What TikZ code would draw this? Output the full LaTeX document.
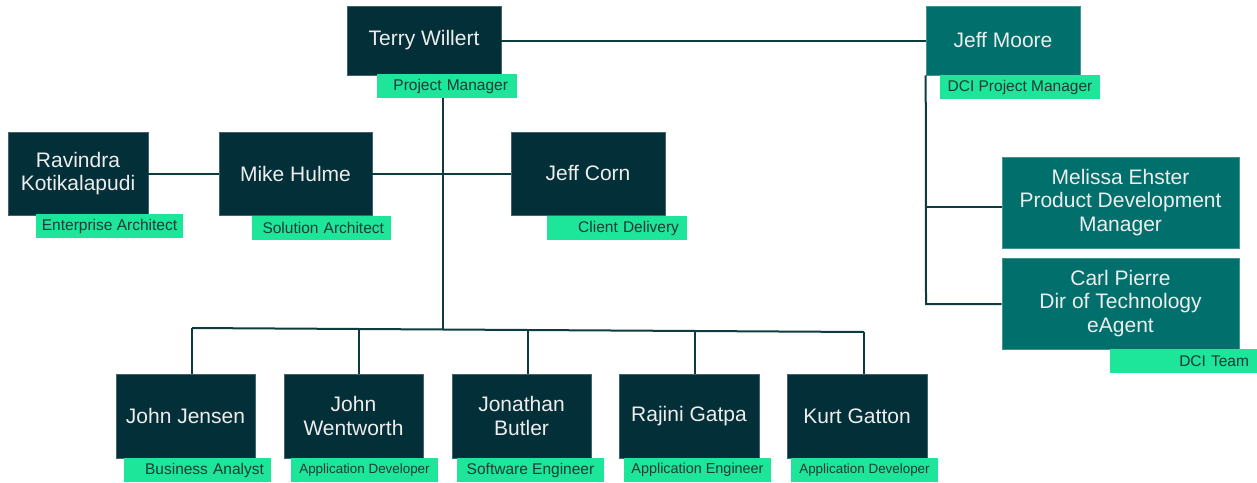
\documentclass[tikz,border=0pt]{standalone}
\usepackage{fontspec}
\setmainfont{Liberation Sans}
\definecolor{dark}{HTML}{033038}
\definecolor{tealbox}{HTML}{01706C}
\definecolor{labfill}{HTML}{1DE59A}
\definecolor{labtext}{HTML}{1E3A36}
\definecolor{connc}{HTML}{0E3B3F}
\begin{document}
\begin{tikzpicture}[x=1pt,y=-1pt,
  person/.style={fill=dark, draw=dark!75!white, line width=0.6pt, text=white!93!black,
    font=\fontsize{21}{23.5}\selectfont, align=center, inner sep=0pt},
  dci/.style={person, fill=tealbox, draw=tealbox!75!white},
  role/.style={fill=labfill, text=labtext, font=\fontsize{15.5}{18}\selectfont,
    inner ysep=0pt, minimum height=24, align=center},
  rolesm/.style={role, font=\fontsize{13.4}{16}\selectfont},
  conn/.style={draw=connc, line width=2pt}]
\useasboundingbox (0,0) rectangle (1257,482);

% connectors first (behind boxes)
\coordinate (tk) at (443,329.5);
\coordinate (bl) at (192,328);
\coordinate (br) at (864,332);
\coordinate (d2) at (359,329);
\coordinate (d3) at (528,330);
\coordinate (d4) at (695,331);
\coordinate (jb1) at (926,207);
\coordinate (jmb) at (926,304);

% top row
\node[person, minimum width=154, minimum height=69] (tw) at (424,40.5) {Terry Willert};
\node[role, inner xsep=9, text width=122, align=right] (pm) at (447,86) {Project Manager};
\node[dci, minimum width=154, minimum height=69] (jm) at (1003,40.5) {Jeff Moore};
\node[role, minimum width=160, inner xsep=0pt] (jmr) at (1020,87) {DCI Project Manager};

% middle row
\node[person, minimum width=140, minimum height=83] (rk) at (78,173.5) {Ravindra\\Kotikalapudi};
\node[role, minimum width=147, inner xsep=0pt] (rkr) at (109.5,226) {Enterprise Architect};
\node[person, minimum width=153, minimum height=83] (mh) at (295.5,173.5) {Mike Hulme};
\node[role, inner xsep=7, text width=125, align=right] (mhr) at (321.5,228) {Solution Architect};
\node[person, minimum width=154, minimum height=83] (jc) at (588,173.5) {Jeff Corn};
\node[role, inner xsep=8, text width=124, align=right] (jcr) at (617,228) {Client Delivery};

% DCI side
\node[dci, minimum width=237, minimum height=91] (me) at (1120.5,202.5) {Melissa Ehster\\Product Development\\Manager};
\node[dci, minimum width=237, minimum height=91] (cp) at (1120.5,303.5) {Carl Pierre\\Dir of Technology\\eAgent};
\node[role, inner xsep=8, text width=131, align=right] (dt) at (1183.5,361) {DCI Team};

% bottom row
\node[person, minimum width=139, minimum height=84] (jj) at (185.5,416) {John Jensen};
\node[role, inner xsep=7, text width=133, align=right] (jjr) at (197.5,470) {Business Analyst};
\node[person, minimum width=139, minimum height=84] (jw) at (353.5,416) {John\\Wentworth};
\node[rolesm, minimum width=147, inner xsep=0pt] (jwr) at (364.5,470) {Application Developer};
\node[person, minimum width=139, minimum height=84] (jbt) at (521.5,416) {Jonathan\\Butler};
\node[role, minimum width=147, inner xsep=0pt] (jbr) at (530.5,470) {Software Engineer};
\node[person, minimum width=140, minimum height=84] (rg) at (689,416) {Rajini Gatpa};
\node[role, minimum width=147, inner xsep=0pt, font=\fontsize{14.4}{17}\selectfont] (rgr) at (697.5,470) {Application Engineer};
\node[person, minimum width=140, minimum height=84] (kg) at (857,416) {Kurt Gatton};
\node[rolesm, minimum width=147, inner xsep=0pt] (kgr) at (864.5,470) {Application Developer};

% connectors
\draw[conn] (tw.east) -- (jm.west);
\draw[conn] (jm.south west) -- (jmb) -- (jmb -| cp.west);
\draw[conn] (jb1) -- (jb1 -| me.west);
\draw[conn] (pm.south -| tk) -- (tk);
\draw[conn] (rk.east) -- (mh.west);
\draw[conn] (mh.east) -- (jc.west);
\draw[conn] (bl) -- (br);
\draw[conn] (bl) -- (bl |- jj.north);
\draw[conn] (d2) -- (d2 |- jw.north);
\draw[conn] (d3) -- (d3 |- jbt.north);
\draw[conn] (d4) -- (d4 |- rg.north);
\draw[conn] (br) -- (br |- kg.north);
\end{tikzpicture}
\end{document}
